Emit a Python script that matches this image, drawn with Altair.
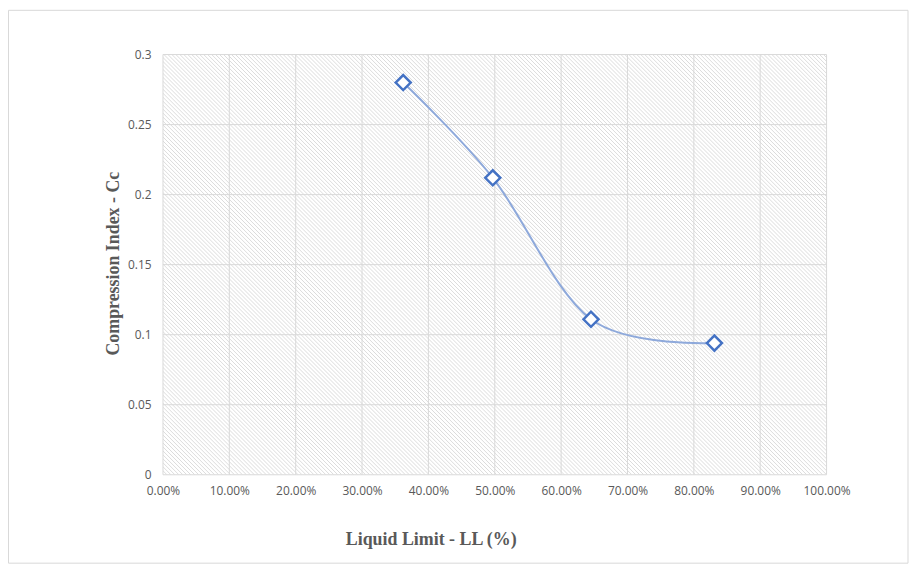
import altair as alt
import pandas as pd

# data
liquid_limit = [0.362, 0.497, 0.645, 0.831]
compression_index = [0.28, 0.212, 0.111, 0.094]
x_ticks = [0.0, 0.1, 0.2, 0.3, 0.4, 0.5, 0.6, 0.7, 0.8, 0.9, 1.0]
y_ticks = [0, 0.05, 0.1, 0.15, 0.2, 0.25, 0.3]

df = pd.DataFrame({"LL": liquid_limit, "Cc": compression_index})

W, H = 668, 423
PAD = {"left": 156, "top": 45, "right": 84, "bottom": 90}

X_MAX, Y_MAX = 1.0, 0.3
x_scale = alt.Scale(domain=[0, X_MAX], nice=False)
y_scale = alt.Scale(domain=[0, Y_MAX], nice=False)

x_axis = alt.Axis(
    values=x_ticks, format=".2%", title="Liquid Limit - LL (%)",
    titleX=269.5, titleY=70, titleAnchor="start", titleAlign="center",
    titleBaseline="alphabetic", labelPadding=11, grid=False,
    labelFlush=False, labelOverlap=False,
)
y_axis = alt.Axis(
    values=y_ticks, format=".2~f", title="Compression Index - Cc",
    titleX=-45, titleY=210, titleAngle=-90, titleAlign="center",
    titleBaseline="alphabetic", labelPadding=12, grid=False,
    labelFlush=False, labelOverlap=False,
)

# decorative diagonal hatch of the plot area (every 4 px, expressed in scale units)
hatch_rows = []
for c in range(-H, W + 1, 4):
    hatch_rows.append({
        "hx": c / W * X_MAX, "hx2": (c + H) / W * X_MAX,
        "hy": Y_MAX, "hy2": 0.0,
    })
hatch_df = pd.DataFrame(hatch_rows)

hatch = alt.Chart(hatch_df).mark_rule(
    color="#dcdcdc", strokeWidth=1, clip=True
).encode(
    x=alt.X("hx:Q", scale=x_scale, axis=x_axis), x2="hx2:Q",
    y=alt.Y("hy:Q", scale=y_scale, axis=y_axis), y2="hy2:Q",
)

grid_x = alt.Chart(pd.DataFrame({"gx": x_ticks})).mark_rule(
    color="#d9d9d9", strokeWidth=1
).encode(x=alt.X("gx:Q", scale=x_scale, axis=x_axis))

grid_y = alt.Chart(pd.DataFrame({"gy": y_ticks})).mark_rule(
    color="#d9d9d9", strokeWidth=1
).encode(y=alt.Y("gy:Q", scale=y_scale, axis=y_axis))

line = alt.Chart(df).mark_line(
    interpolate="cardinal", color="#8EA9DB", strokeWidth=2
).encode(
    x=alt.X("LL:Q", scale=x_scale, axis=x_axis),
    y=alt.Y("Cc:Q", scale=y_scale, axis=y_axis),
)

points = alt.Chart(df).mark_point(
    shape="diamond", filled=True, fill="#ffffff", stroke="#4472C4",
    strokeWidth=2.5, size=230, opacity=1
).encode(
    x=alt.X("LL:Q", scale=x_scale, axis=x_axis),
    y=alt.Y("Cc:Q", scale=y_scale, axis=y_axis),
)

frame = alt.Chart(pd.DataFrame({"f": [0]})).mark_rect(
    fill="transparent", stroke="#d9d9d9", strokeWidth=1
).encode(
    x=alt.value(-155.5), x2=alt.value(750), y=alt.value(-44.5), y2=alt.value(512)
)

chart = alt.layer(frame, hatch, grid_x, grid_y, line, points).properties(
    width=W, height=H,
    autosize=alt.AutoSizeParams(type="none"),
    padding=PAD,
).configure_view(
    stroke=None, fill="#ffffff"
).configure_axis(
    domain=False, ticks=False,
    labelFont="Open Sans", labelFontSize=12, labelColor="#595959",
    titleFont="Liberation Serif", titleFontSize=18, titleFontWeight="bold",
    titleColor="#595959",
)

chart.save("out.html", embed_options={"renderer": "svg", "actions": False})
